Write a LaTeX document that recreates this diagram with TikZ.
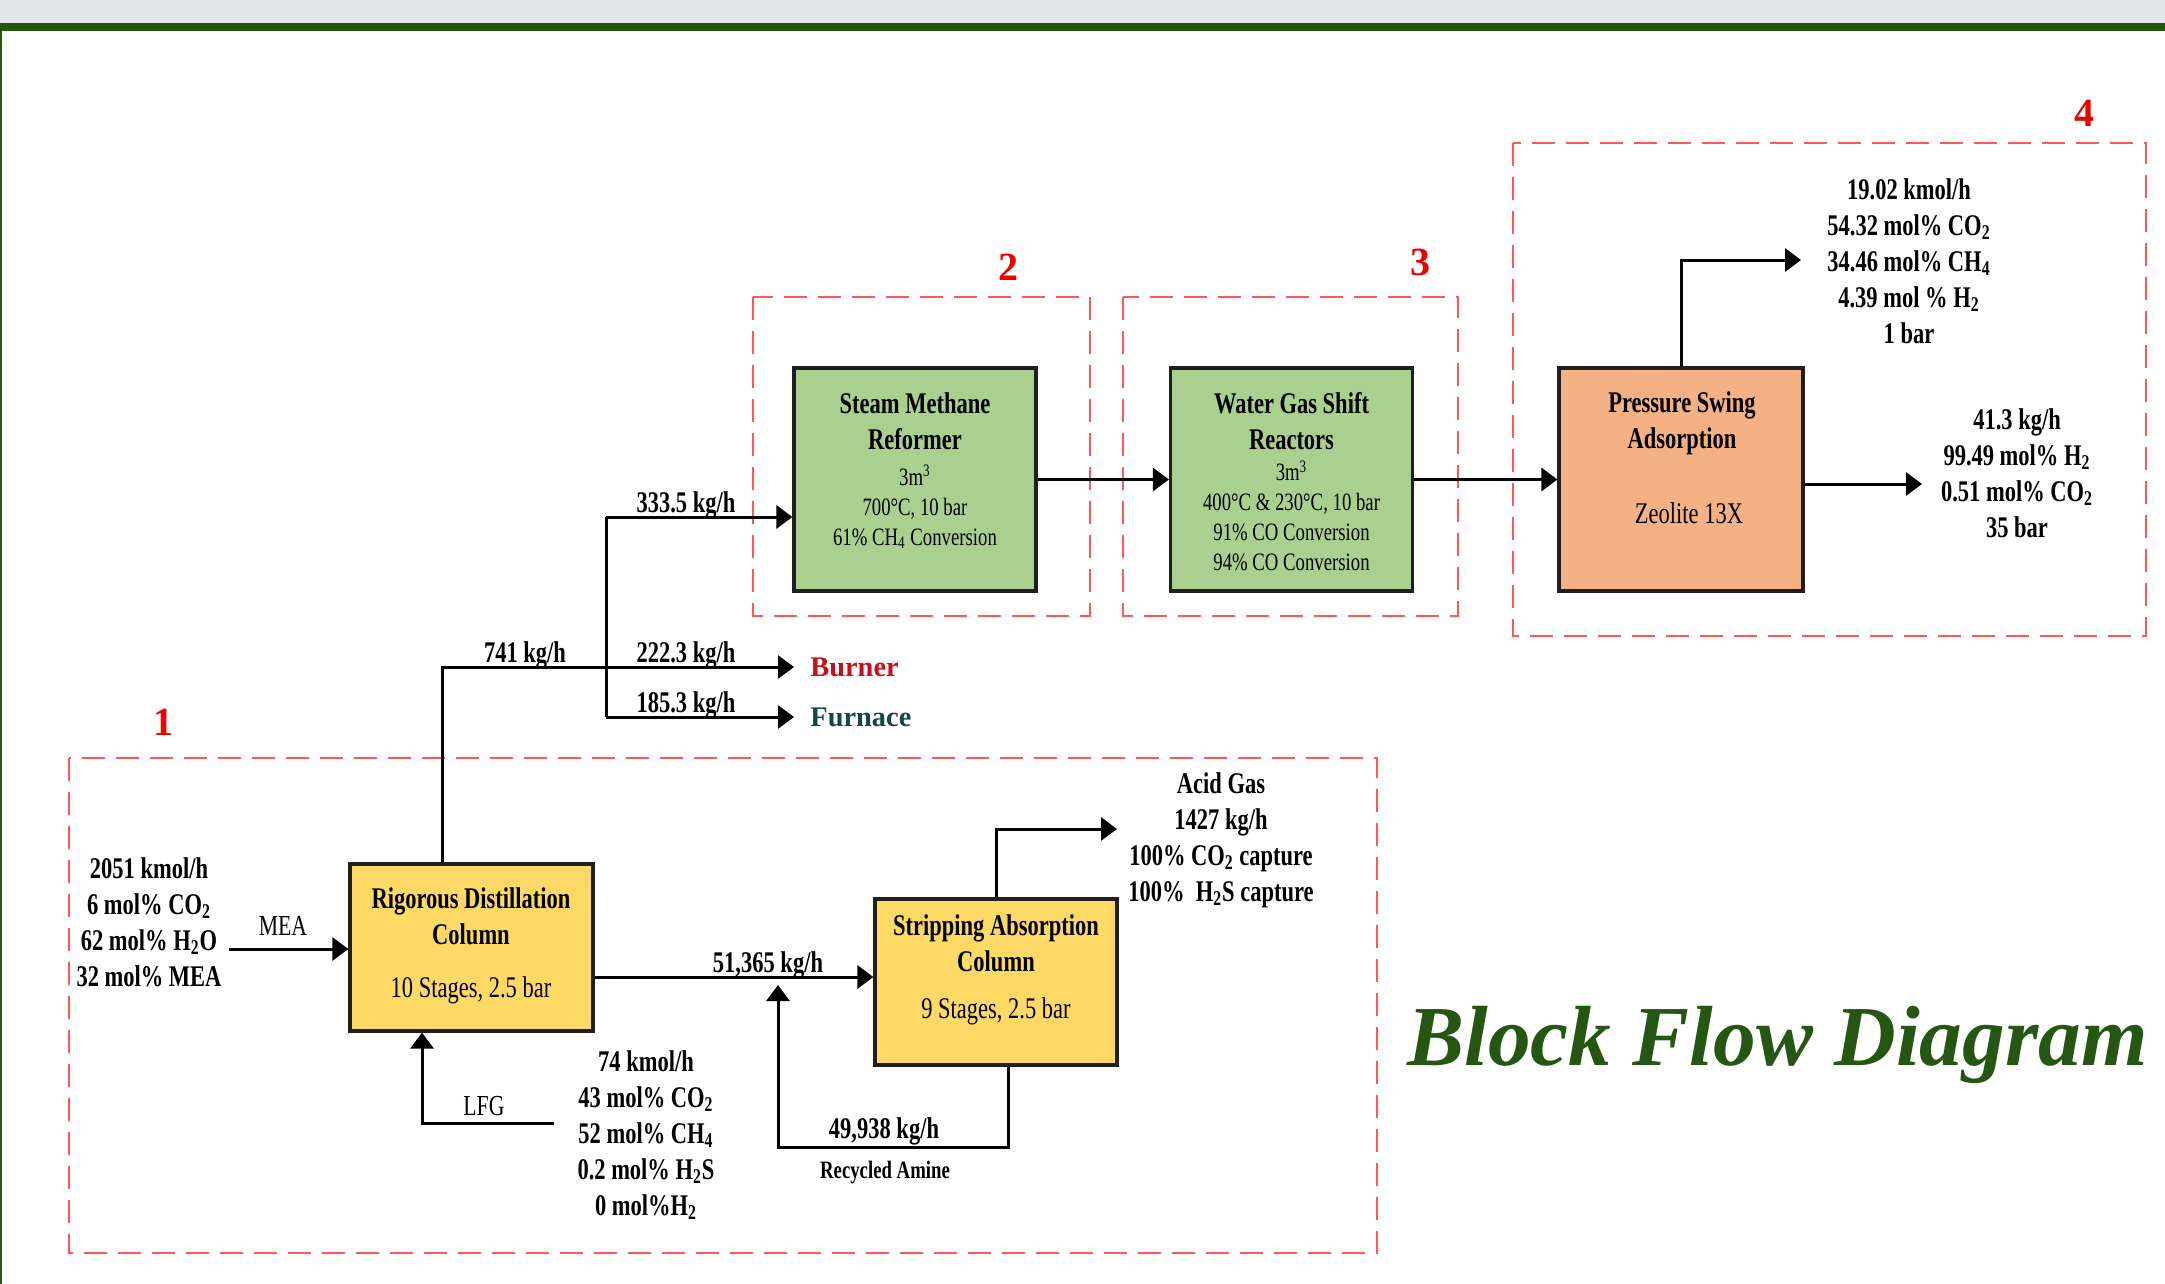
\documentclass[tikz,border=0pt]{standalone}
\usepackage{fontspec}
\setmainfont{Liberation Serif}
\newfontfamily\cf[FakeStretch=0.75]{Liberation Serif}
\usetikzlibrary{arrows.meta}
\definecolor{bandgray}{RGB}{228,231,232}
\definecolor{dkgreen}{RGB}{37,86,18}
\definecolor{regred}{RGB}{255,88,88}
\definecolor{lblred}{RGB}{240,0,0}
\definecolor{smrgreen}{RGB}{169,208,142}
\definecolor{psaorange}{RGB}{244,177,131}
\definecolor{coly}{RGB}{255,217,102}
\definecolor{burnred}{RGB}{196,16,24}
\definecolor{furnteal}{RGB}{20,72,72}
\begin{document}
\begin{tikzpicture}[x=0.5pt,y=-0.5pt,
  region/.style={draw=regred, line width=1pt, dash pattern=on 11.5pt off 5.5pt},
  regnum/.style={text=lblred, font=\fontsize{20}{24}\selectfont\bfseries, inner sep=0pt},
  unitbox/.style={draw=black!88, line width=1.6pt, inner sep=0pt},
  flow/.style={line width=1.5pt, -{Triangle[length=8pt,width=11.5pt]}},
  pipe/.style={line width=1.5pt},
  ttl/.style={font=\cf\fontsize{15}{18}\selectfont\bfseries, align=center, inner sep=0pt},
  subtxt/.style={font=\cf\fontsize{12.5}{15}\selectfont, align=center, inner sep=0pt},
  subbig/.style={font=\cf\fontsize{15}{18}\selectfont, align=center, inner sep=0pt},
  data/.style={font=\cf\fontsize{15}{18}\selectfont\bfseries, align=center, inner sep=0pt},
  dest/.style={font=\fontsize{14.2}{17}\selectfont\bfseries, anchor=west, inner xsep=8pt, inner ysep=0pt}
]
\useasboundingbox (0,0) rectangle (2165,1284);
\fill[white] (0,0) rectangle (2165,1284);
\fill[bandgray] (0,0) rectangle (2165,23);
\fill[dkgreen] (0,23) rectangle (2165,31);
\draw[dkgreen, line width=1pt] (1,31) -- (1,1284);

% regions
\draw[region] (69,758) rectangle (1377,1253);
\draw[region] (753,297) rectangle (1090,616);
\draw[region] (1123,297) rectangle (1458,616);
\draw[region] (1513,143) rectangle (2146,636);
\node[regnum] (n1) at (163,722) {1};
\node[regnum] (n2) at (1008,267) {2};
\node[regnum] (n3) at (1420,262) {3};
\node[regnum] (n4) at (2084,113) {4};

% unit boxes
\node[unitbox, fill=smrgreen, minimum width=121pt, minimum height=111.5pt] (smr) at (915,479.5) {};
\node[unitbox, fill=smrgreen, minimum width=121pt, minimum height=111.5pt] (wgs) at (1291.5,479.5) {};
\node[unitbox, fill=psaorange, minimum width=122pt, minimum height=111.5pt] (psa) at (1681,479.5) {};
\node[unitbox, fill=coly, minimum width=121.5pt, minimum height=83.5pt] (rdc) at (471.5,947.5) {};
\node[unitbox, fill=coly, minimum width=121pt, minimum height=83pt] (sac) at (996,982) {};

% box texts
\node[ttl] (smrT) at (915,421) {Steam Methane\\Reformer};
\node[subtxt] (smrS) at (915,507) {3m\textsuperscript{3}\\700°C, 10 bar\\61\% CH\textsubscript{4} Conversion};
\node[ttl] (wgsT) at (1291.5,421) {Water Gas Shift\\Reactors};
\node[subtxt] (wgsS) at (1291.5,516) {3m\textsuperscript{3}\\400°C \& 230°C, 10 bar\\91\% CO Conversion\\94\% CO Conversion};
\node[ttl] (psaT) at (1682,423) {Pressure Swing\\Adsorption};
\node[subbig] (psaS) at (1689,513) {Zeolite 13X};
\node[ttl] (rdcT) at (471,916) {Rigorous Distillation\\Column};
\node[subbig] (rdcS) at (471,990) {10 Stages, 2.5 bar};
\node[ttl] (sacT) at (996,943) {Stripping Absorption\\Column};
\node[subbig] (sacS) at (996,1011) {9 Stages, 2.5 bar};

% destinations
\node[dest, text=burnred] (burner) at (794,667) {Burner};
\node[dest, text=furnteal] (furnace) at (794,717) {Furnace};

% stream data
\node[data] (offT) at (1909,261) {19.02 kmol/h\\54.32 mol\% CO\textsubscript{2}\\34.46 mol\% CH\textsubscript{4}\\4.39 mol \% H\textsubscript{2}\\1 bar};
\node[data] (h2T) at (2017,473) {41.3 kg/h\\99.49 mol\% H\textsubscript{2}\\0.51 mol\% CO\textsubscript{2}\\35 bar};
\node[data] (feedT) at (149,922) {2051 kmol/h\\6 mol\% CO\textsubscript{2}\\62 mol\% H\textsubscript{2}O\\32 mol\% MEA};
\node[data] (lfgT) at (646,1135) {74 kmol/h\\43 mol\% CO\textsubscript{2}\\52 mol\% CH\textsubscript{4}\\0.2 mol\% H\textsubscript{2}S\\0 mol\%H\textsubscript{2}};
\node[data] (acidT) at (1221,840) {Acid Gas\\1427 kg/h\\100\% CO\textsubscript{2} capture\\100\%\ \ H\textsubscript{2}S capture};

\node[data, anchor=base] (q333) at (686,512) {333.5 kg/h};
\node[data, anchor=base] (q741) at (525,662) {741 kg/h};
\node[data, anchor=base] (q222) at (686,662) {222.3 kg/h};
\node[data, anchor=base] (q185) at (686,712) {185.3 kg/h};
\node[data, anchor=base] (q51) at (768,972) {51,365 kg/h};
\node[data, anchor=base] (q49) at (884,1138) {49,938 kg/h};
\node[font=\cf\fontsize{12.5}{15}\selectfont\bfseries, inner sep=0pt] (recy) at (885,1173) {Recycled Amine};
\node[font=\cf\fontsize{14.5}{17}\selectfont, inner sep=0pt] (mea) at (283,926) {MEA};
\node[font=\cf\fontsize{14.5}{17}\selectfont, inner sep=0pt] (lfg) at (484,1106) {LFG};

% connectors
\coordinate (split) at (442,667);
\coordinate (jtop) at (606,517);
\coordinate (jbot) at (606,717);
\draw[flow] (rdc.north -| split) -- (split) -- (burner.west);
\draw[pipe] (jtop) -- (jbot);
\draw[flow] (jtop) -- (smr.west |- jtop);
\draw[flow] (jbot) -- (furnace.west);
\draw[flow] (smr.east) -- (wgs.west);
\draw[flow] (wgs.east) -- (psa.west);
\coordinate (offgas) at (1801,260);
\draw[flow] (psa.north) |- (offgas);
\coordinate (h2out) at (1922,484);
\draw[flow] (psa.east |- h2out) -- (h2out);
\coordinate (meain) at (229,949);
\draw[flow] (meain) -- (rdc.west |- meain);
\coordinate (lfgin) at (554,1123);
\coordinate (lfgc) at (422,1123);
\draw[flow] (lfgin) -- (lfgc) -- (lfgc |- rdc.south);
\coordinate (r2s) at (593,977);
\draw[flow] (rdc.east |- r2s) -- (sac.west |- r2s);
\coordinate (acid) at (1117,829);
\draw[flow] (sac.north) |- (acid);
\coordinate (rec1) at (1008,1147);
\coordinate (rec2) at (778,1147);
\coordinate (recend) at (778,985);
\draw[flow] (sac.south -| rec1) -- (rec1) -- (rec2) -- (recend);

% title
\node[font=\fontsize{42.7}{50}\selectfont\bfseries\itshape, text=dkgreen, anchor=base west, inner sep=0pt] (bfd) at (1407,1065) {Block Flow Diagram};
\end{tikzpicture}
\end{document}
